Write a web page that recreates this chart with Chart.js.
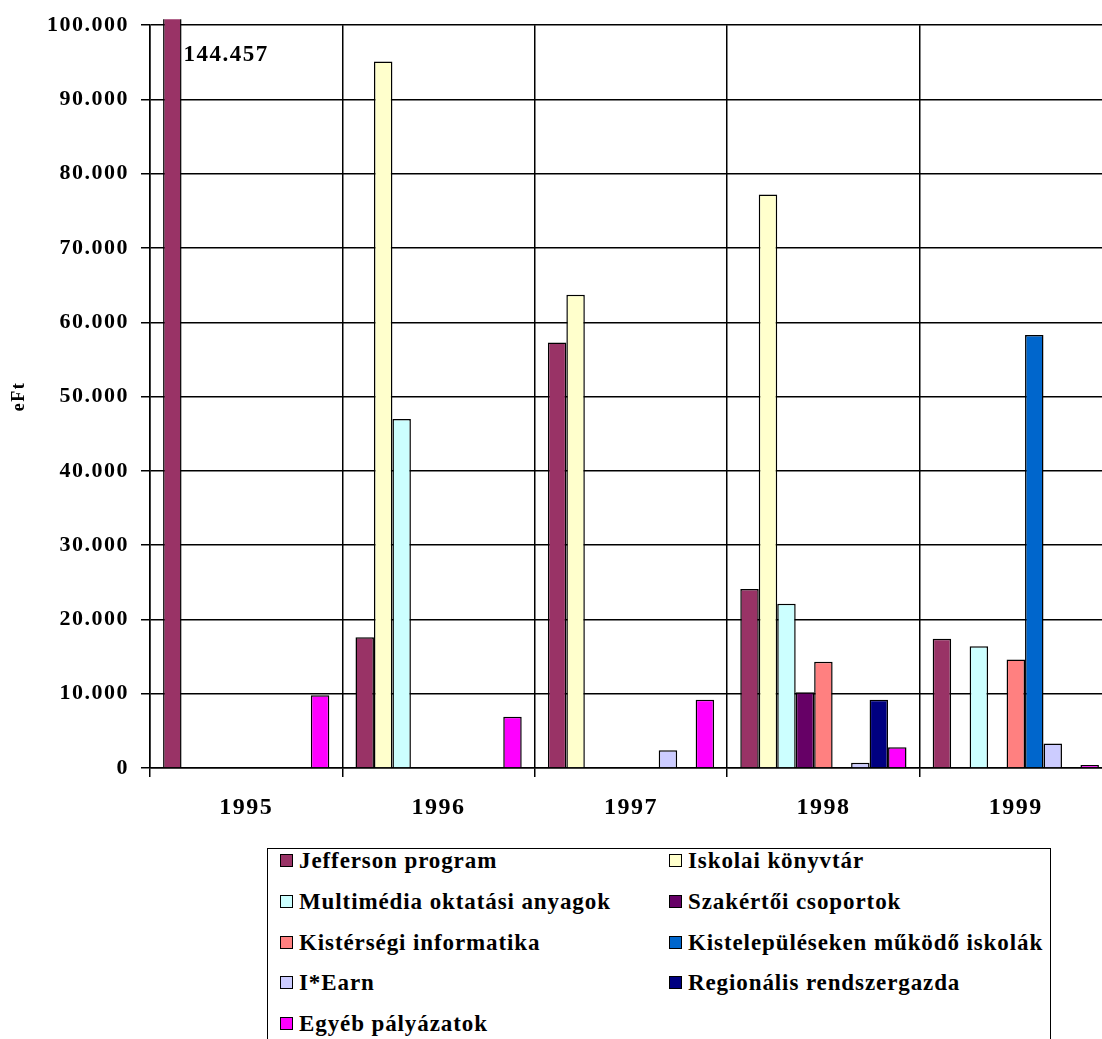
<!DOCTYPE html>
<html>
<head>
<meta charset="utf-8">
<script src="https://cdn.jsdelivr.net/npm/chart.js@4/dist/chart.umd.min.js"></script>
<style>
  html, body { margin: 0; padding: 0; background: #fff; overflow: hidden; }
  #wrap { position: relative; width: 1102px; height: 1039px; overflow: hidden; }
  #c { position: absolute; left: 0; top: 0; }
  #legend {
    position: absolute; left: 267px; top: 848px; width: 784px; height: 220px;
    border: 1.5px solid #000; box-sizing: border-box; background: #fff;
    font-family: "Liberation Serif", "Times New Roman", serif; font-weight: bold;
    font-size: 23px; letter-spacing: 0.9px; color: #000;
  }
  .item { position: absolute; white-space: nowrap; height: 26px; line-height: 26px; }
  .sw { position: absolute; left: 0; top: 6px; width: 11px; height: 11px; border: 1.2px solid #000; }
  .lab { position: absolute; left: 19px; top: 0; }
</style>
</head>
<body>
<div id="wrap">
  <canvas id="c" width="1112" height="1039"></canvas>
  <div id="legend"></div>
</div>
<script>
// Funding per programme and year (eFt)
const years = ['1995', '1996', '1997', '1998', '1999'];
const seriesNames = [
  'Jefferson program',
  'Iskolai könyvtár',
  'Multimédia oktatási anyagok',
  'Szakértői csoportok',
  'Kistérségi informatika',
  'Kistelepüléseken működő iskolák',
  'I*Earn',
  'Regionális rendszergazda',
  'Egyéb pályázatok'
];
const jefferson     = [144457, 17600, 57300, 24100, 17400];
const konyvtar      = [null, 95100, 63700, 77200, null];
const multimedia    = [null, 47000, null, 22100, 16400];
const szakertoi     = [null, null, null, 10200, null];
const kisterseg     = [null, null, null, 14300, 14600];
const kistelepules  = [null, null, null, null, 58300];
const iearn         = [null, null, 2400, 700, 3300];
const rendszergazda = [null, null, null, 9200, null];
const egyeb         = [9800, 6900, 9200, 2800, 400];
const yTicks = [0, 10000, 20000, 30000, 40000, 50000, 60000, 70000, 80000, 90000, 100000];

const seriesValues = [jefferson, konyvtar, multimedia, szakertoi, kisterseg,
                      kistelepules, iearn, rendszergazda, egyeb];
const seriesColors = ['#993366', '#FFFFCC', '#CCFFFF', '#660066', '#FF8080',
                      '#0066CC', '#CCCCFF', '#000080', '#FF00FF'];

// thousands separated with a dot
function fmt(v) {
  return String(Math.round(v)).replace(/\B(?=(\d{3})+(?!\d))/g, '.');
}

const serif = '"Liberation Serif", "Times New Roman", serif';

// letter spacing for canvas text
const spacingPlugin = {
  id: 'spacing',
  beforeDraw(chart) { chart.ctx.letterSpacing = '1.5px'; },
  afterDraw(chart) { chart.ctx.letterSpacing = '0px'; }
};

// value label for the bar that runs past the axis maximum
const overflowLabel = {
  id: 'overflowLabel',
  afterDatasetsDraw(chart) {
    const ctx = chart.ctx;
    const yMax = chart.scales.y.max;
    chart.data.datasets.forEach((ds, di) => {
      const meta = chart.getDatasetMeta(di);
      ds.data.forEach((v, i) => {
        if (v == null || v <= yMax) return;
        const bar = meta.data[i];
        ctx.save();
        ctx.font = 'bold 23px ' + serif;
        ctx.fillStyle = '#000';
        ctx.textAlign = 'left';
        ctx.textBaseline = 'alphabetic';
        ctx.fillText(fmt(v), bar.x + bar.width / 2 + 2, chart.chartArea.top + 36);
        ctx.restore();
      });
    });
  }
};

// two-column legend built from the chart's own legend items
const columnLegend = {
  id: 'columnLegend',
  afterUpdate(chart) {
    const box = document.getElementById('legend');
    box.innerHTML = '';
    const items = Chart.defaults.plugins.legend.labels.generateLabels(chart);
    items.forEach((it, k) => {
      const col = k % 2, row = Math.floor(k / 2);
      const d = document.createElement('div');
      d.className = 'item';
      d.style.left = (col === 0 ? 12 : 401) + 'px';
      d.style.top = (-1 + row * 40.8) + 'px';
      const sw = document.createElement('span');
      sw.className = 'sw';
      sw.style.background = it.fillStyle;
      const lab = document.createElement('span');
      lab.className = 'lab';
      lab.textContent = it.text;
      d.appendChild(sw);
      d.appendChild(lab);
      box.appendChild(d);
    });
  }
};

new Chart(document.getElementById('c'), {
  type: 'bar',
  data: {
    labels: years,
    datasets: seriesNames.map((name, i) => ({
      label: name,
      data: seriesValues[i],
      backgroundColor: seriesColors[i],
      borderColor: '#000',
      borderWidth: 1.5,
      categoryPercentage: 0.864,
      barPercentage: 1.0,
      clip: { left: 0, top: 6, right: 0, bottom: 0 }
    }))
  },
  options: {
    responsive: false,
    animation: false,
    devicePixelRatio: 1,
    layout: { padding: { top: 21, left: 0, right: 0, bottom: 0 } },
    plugins: {
      legend: { display: false },
      tooltip: { enabled: false }
    },
    scales: {
      x: {
        offset: true,
        grid: {
          offset: true,
          color: '#000',
          lineWidth: 1.5,
          drawTicks: true,
          tickLength: 9,
          tickColor: '#000'
        },
        border: { display: true, color: '#000', width: 1.5 },
        ticks: {
          color: '#000',
          font: { family: serif, size: 24, weight: 'bold' },
          padding: 16,
          maxRotation: 0
        },
        afterFit(scale) { scale.height = 271; }
      },
      y: {
        min: 0,
        max: 100000,
        afterBuildTicks(scale) { scale.ticks = yTicks.map(v => ({ value: v })); },
        grid: {
          color: '#000',
          lineWidth: 1.5,
          drawTicks: true,
          tickLength: 9,
          tickColor: '#000'
        },
        border: { display: true, color: '#000', width: 1.5 },
        ticks: {
          color: '#000',
          font: { family: serif, size: 22, weight: 'bold' },
          padding: 12,
          callback: v => fmt(v)
        },
        title: {
          display: true,
          text: 'eFt',
          color: '#000',
          font: { family: serif, size: 18, weight: 'bold' },
          padding: { top: 9, bottom: 0 }
        },
        afterFit(scale) { scale.width = 150; }
      }
    }
  },
  plugins: [spacingPlugin, overflowLabel, columnLegend]
});
</script>
</body>
</html>
